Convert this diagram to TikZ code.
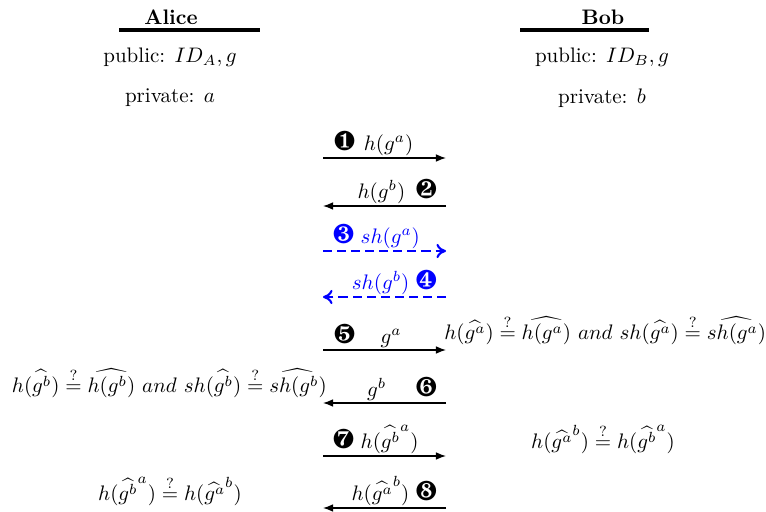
\documentclass[tikz,border=0pt]{standalone}
\usepackage{amsmath}
\usepackage{pifont}
\usepackage{tikz}
\usetikzlibrary{arrows.meta,positioning}

\newcommand{\stepno}[1]{{\fontsize{13}{13}\selectfont\ding{#1}}}

\begin{document}
\begin{tikzpicture}[
  x=0.01674cm, y=-0.01674cm,
  party/.style={font=\bfseries, inner sep=1pt},
  info/.style={inner sep=1pt},
  rule/.style={line width=1.5pt, draw=black},
  msg/.style={-{Latex[length=1.7mm,width=1.3mm]}, semithick, draw=black},
  smsg/.style={-{To[length=1.6mm,width=2.4mm]}, line width=1pt, draw=blue, dash pattern=on 4.3pt off 2.4pt},
  lbl/.style={inner sep=1pt},
  chk/.style={inner sep=1pt}
]
\useasboundingbox (0,0) rectangle (766,512);
% parties
\node[party] (alice) at (171,17) {Alice};
\node[party] (bob) at (603,17) {Bob};
\draw[rule] (119,30) -- (260,30);
\draw[rule] (520,30) -- (649,30);
\node[info] (pubA) at (170,57) {public: $ID_A, g$};
\node[info] (privA) at (170,98) {private: $a$};
\node[info] (pubB) at (602,57) {public: $ID_B, g$};
\node[info] (privB) at (602,98) {private: $b$};
% message lanes
\foreach \i/\y in {1/158,2/206,3/251,4/297,5/350,6/403,7/456,8/508}{
  \coordinate (a\i) at (323,\y);
  \coordinate (b\i) at (446,\y);
}
\draw[msg] (a1) -- (b1);
\draw[msg] (b2) -- (a2);
\draw[smsg] (a3) -- (b3);
\draw[smsg] (b4) -- (a4);
\draw[msg] (a5) -- (b5);
\draw[msg] (b6) -- (a6);
\draw[msg] (a7) -- (b7);
\draw[msg] (b8) -- (a8);
\node[lbl, above right=0pt and 4pt of a1] (m1) {\stepno{182}\hspace{4pt}$h(g^a)$};
\node[lbl, above left=0pt and 3pt of b2] (m2) {$h(g^b)$\hspace{5pt}\stepno{183}};
\node[lbl, above right=0pt and 3.5pt of a3, text=blue] (m3) {\stepno{184}\hspace{3pt}$sh(g^a)$};
\node[lbl, above left=0pt and 3pt of b4, text=blue] (m4) {$sh(g^b)$\hspace{3pt}\stepno{185}};
\node[lbl, above right=0pt and 4pt of a5] (m5) {\stepno{186}\hspace{1.2em}$g^a$};
\node[lbl, above left=0pt and 3pt of b6] (m6) {$g^b$\hspace{1.4em}\stepno{187}};
\node[lbl, above right=0pt and 3.5pt of a7] (m7) {\stepno{188}\hspace{3pt}$h({\widehat{g^b}}^{a})$};
\node[lbl, above left=0pt and 3pt of b8] (m8) {$h({\widehat{g^a}}^{b})$\hspace{3pt}\stepno{189}};
% checks
\node[chk, above right=1.5pt and -2pt of b5] (chkB5) {$h(\widehat{g^a}) \stackrel{?}{=} \widehat{h(g^a)}\ and\ sh(\widehat{g^a}) \stackrel{?}{=} \widehat{sh(g^a)}$};
\node[chk, above left=1.5pt and -3pt of a6] (chkA6) {$h(\widehat{g^b}) \stackrel{?}{=} \widehat{h(g^b)}\ and\ sh(\widehat{g^b}) \stackrel{?}{=} \widehat{sh(g^b)}$};
\node[chk] (chkB7) at (603,439) {$h({\widehat{g^a}}^{b}) \stackrel{?}{=} h({\widehat{g^b}}^{a})$};
\node[chk] (chkA8) at (170,491) {$h({\widehat{g^b}}^{a}) \stackrel{?}{=} h({\widehat{g^a}}^{b})$};
\end{tikzpicture}
\end{document}
